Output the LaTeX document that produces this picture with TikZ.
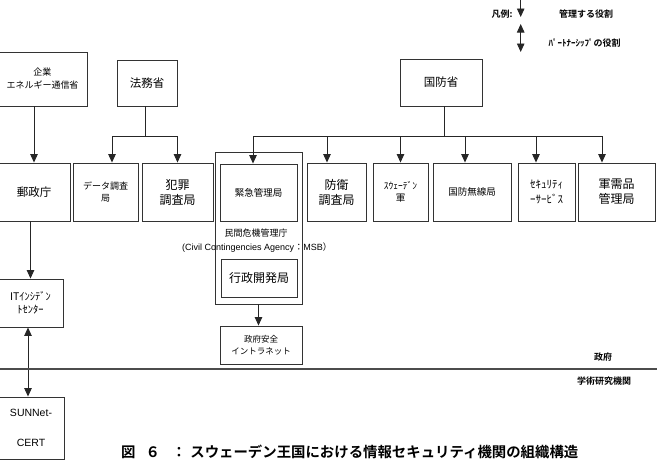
\documentclass[tikz,border=0pt]{standalone}
\usepackage{fontspec}
\setmainfont{Noto Sans CJK JP}[BoldFont={Noto Sans CJK JP Bold}]
\newfontfamily\lat{Liberation Sans}
\usetikzlibrary{arrows.meta}
\newcommand\myfs[2]{\fontsize{#1}{#2}\selectfont}
\begin{document}
\begin{tikzpicture}[x=1pt,y=-1pt,
  bx/.style={draw=black!80,line width=0.9pt,inner sep=0pt,align=center,font=\myfs{9}{13}},
  wh/.style 2 args={minimum width=#1pt,minimum height=#2pt},
  ln/.style={draw=black!85,line width=0.9pt},
  arr/.style={ln,-{Triangle[width=7.5pt,length=8.5pt]}},
  arrb/.style={ln,{Triangle[width=7.5pt,length=8.5pt]}-{Triangle[width=7.5pt,length=8.5pt]}},
  lbl/.style={inner sep=0pt,font=\bfseries\myfs{9}{11}}]
\useasboundingbox (0,0) rectangle (657,472);
\clip (0,0) rectangle (657,472);

% legend
\node[lbl] (legend) at (502,14) {凡例:};
\node[lbl] (legmg) at (586,14) {管理する役割};
\node[lbl] (legpt) at (584.5,43) {ﾊﾟｰﾄﾅｰｼｯﾌﾟの役割};
\coordinate (l1a) at (520.7,0);
\coordinate (l1b) at (520.7,17);
\coordinate (l2a) at (520.7,24);
\coordinate (l2b) at (520.7,52);
\draw[arr] (l1a) -- (l1b);
\draw[arrb] (l2a) -- (l2b);

% top ministries
\node[bx,wh={89}{54}] (minA) at (42.5,79) {企業\\エネルギー通信省};
\node[bx,wh={60}{46},font=\myfs{11.5}{14}] (houmu) at (147,83) {法務省};
\node[bx,wh={82}{47},font=\myfs{11.5}{14}] (kokubo) at (441,82.5) {国防省};

% row of agencies
\node[bx,wh={72}{58},font=\myfs{11.5}{14}] (yusei) at (34,192) {郵政庁};
\node[bx,wh={65}{58},font=\myfs{9}{12.5}] (data) at (105.5,192) {データ調査\\局};
\node[bx,wh={71}{58},font=\myfs{12}{15}] (hanzai) at (177.5,192) {犯罪\\調査局};
\node[bx,wh={87}{152}] (msb) at (258.5,228) {};
\node[bx,wh={77}{57},font=\myfs{9.5}{12}] (kinkyu) at (258.5,192.5) {緊急管理局};
\node[inner sep=0pt,font=\myfs{9}{11}] (msbname) at (256,233) {民間危機管理庁};
\node[inner sep=0pt,font=\lat\myfs{9}{11}] (msben) at (257,248) {(Civil Contingencies Agency{\rmfamily ：}MSB{\rmfamily ）}};
\node[bx,wh={76}{38},font=\myfs{12}{15}] (gyosei) at (259,278) {行政開発局};
\node[bx,wh={82}{38},font=\myfs{8.5}{12}] (intra) at (261,345) {政府安全\\イントラネット};
\node[bx,wh={59}{58},font=\myfs{12}{15}] (boei) at (336.5,192) {防衛\\調査局};
\node[bx,wh={55}{58},font=\myfs{9.5}{12}] (sweden) at (400.5,192) {ｽｳｪｰﾃﾞﾝ\\軍};
\node[bx,wh={78}{58},font=\myfs{9.5}{12}] (musen) at (472,192) {国防無線局};
\node[bx,wh={57}{58},font=\myfs{11}{15}] (security) at (546.5,192) {ｾｷｭﾘﾃｨ\\ｰｻｰﾋﾞｽ};
\node[bx,wh={77}{58},font=\myfs{12}{15}] (gunju) at (616.5,192) {軍需品\\管理局};

% left column
\node[bx,wh={65}{48},font=\myfs{10.5}{13.5}] (itc) at (30.5,303) {ITｲﾝｼﾃﾞﾝ\\ﾄｾﾝﾀｰ};
\node[bx,wh={66}{62},font=\lat\myfs{10.5}{30}] (sunnet) at (31,428) {SUNNet-\\CERT};

% connectors
\coordinate (hbus) at (145,136);
\draw[ln] (houmu.south -| hbus) -- (hbus);
\draw[arr] (hbus) -| ([xshift=6.5pt]data.north);
\draw[arr] (hbus) -| (hanzai.north);
\coordinate (kbus) at (444,136);
\draw[ln] (kokubo.south -| kbus) -- (kbus);
\draw[arr] (kbus) -| ([xshift=-5.5pt]kinkyu.north);
\draw[arr] (kbus) -| ([xshift=-9.5pt]boei.north);
\draw[arr] (kbus) -| (sweden.north);
\draw[arr] (kbus) -| ([xshift=-7pt]musen.north);
\draw[arr] (kbus) -| ([xshift=-10.5pt]security.north);
\draw[arr] (kbus) -| ([xshift=-14.5pt]gunju.north);
\draw[arr] (minA.south -| yusei.north) -- (yusei.north);
\draw[arr] (yusei.south -| itc.north) -- (itc.north);
\draw[arrb] ([xshift=-2.5pt]itc.south) -- ([xshift=-3pt]sunnet.north);
\draw[arr] (msb.south) -- (msb.south |- intra.north);

% divider
\coordinate (dl) at (0,369);
\coordinate (dr) at (657,369);
\draw[draw=black!70,line width=1.3pt] (dl) -- (dr);
\node[lbl] (gov) at (603,357) {政府};
\node[lbl] (acad) at (604,381) {学術研究機関};

% title
\node[inner sep=0pt,anchor=west,font=\bfseries\myfs{14.4}{16}] (title) at (121,452)
  {図\hspace{10pt}６\hspace{12pt}：\hspace{4pt}スウェーデン王国における情報セキュリティ機関の組織構造};
\end{tikzpicture}
\end{document}
